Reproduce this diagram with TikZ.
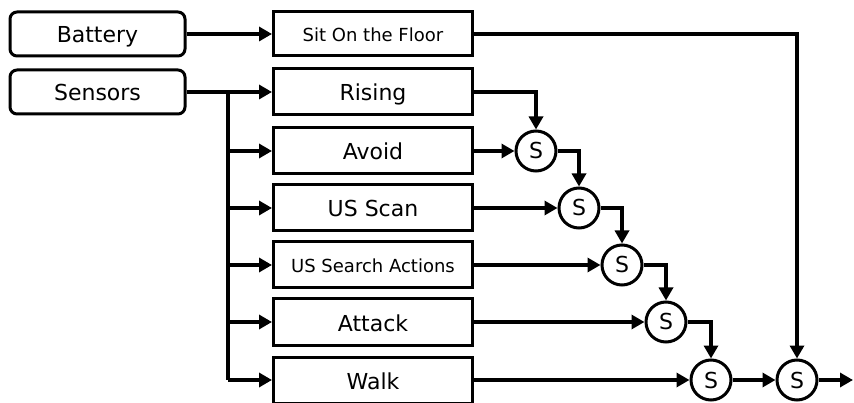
\documentclass[tikz,border=0pt]{standalone}
\usepackage{fontspec}
\setmainfont{DejaVu Sans}
\usetikzlibrary{arrows.meta}
\tikzset{
  blk/.style={draw, line width=3pt, minimum width=199pt, minimum height=46pt, inner sep=0pt, text height=18pt, text depth=0pt, font=\fontsize{22}{24}\selectfont},
  small/.style={text height=15pt, font=\fontsize{18}{20}\selectfont},
  src/.style={blk, rounded corners=7pt, minimum width=175pt, minimum height=44pt},
  supp/.style={draw, circle, line width=3pt, minimum size=40pt, inner sep=0pt, text height=16pt, text depth=0pt, font=\fontsize{22}{24}\selectfont},
  lnk/.style={line width=4pt, -{Triangle[length=13pt,width=14pt]}}
}

\begin{document}
\begin{tikzpicture}[x=1pt,y=-1pt]
\useasboundingbox (0,0) rectangle (854,403);

\node[src] (bat) at (97.5,34) {Battery};
\node[src] (sen) at (97.5,92) {Sensors};
\node[blk, small, minimum height=44pt] (sit) at (373,34) {Sit On the Floor};

\foreach \n/\t/\y/\s in {r/Rising/92/blk, a/Avoid/151/blk, u/US Scan/208/blk, h/US Search Actions/265/small, k/Attack/322/blk, w/Walk/380/blk}
    \node[blk, \s] (\n) at (373,\y) {\t};

% suppressor nodes
\node[supp] (s1) at (536,151) {S};
\node[supp] (s2) at (579,208) {S};
\node[supp] (s3) at (622,265) {S};
\node[supp] (s4) at (666,322) {S};
\node[supp] (s5) at (711,380) {S};
\node[supp] (s6) at (797,380) {S};
\coordinate (br) at (228,92);
\coordinate (out) at (853,380);

\draw[lnk] (bat) -- (sit);
\draw[lnk] (sen) -- (r);
\draw[line width=4pt] (br) -- (br |- w);
\foreach \n in {a,u,h,k,w}
    \draw[lnk] (br |- \n) -- (\n.west);

\draw[lnk] (r.east) -| (s1.north);
\draw[lnk] (a) -- (s1);
\draw[lnk] (s1.east) -| (s2.north);
\draw[lnk] (u) -- (s2);
\draw[lnk] (s2.east) -| (s3.north);
\draw[lnk] (h) -- (s3);
\draw[lnk] (s3.east) -| (s4.north);
\draw[lnk] (k) -- (s4);
\draw[lnk] (s4.east) -| (s5.north);
\draw[lnk] (w) -- (s5);
\draw[lnk] (s5) -- (s6);
\draw[lnk] (sit.east) -| (s6.north);
\draw[lnk] (s6) -- (out);
\end{tikzpicture}
\end{document}
